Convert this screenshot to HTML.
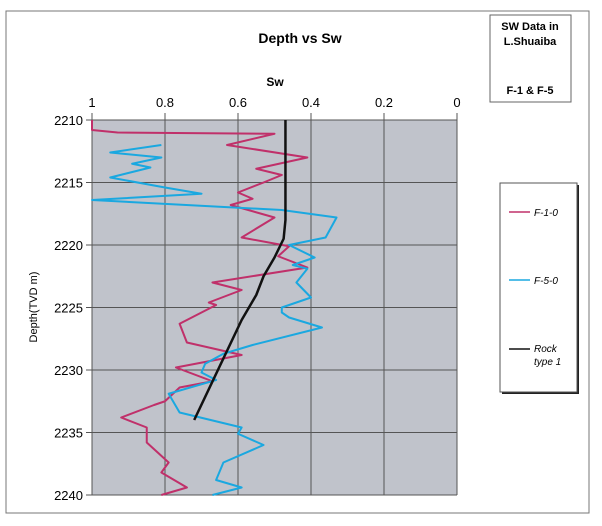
<!DOCTYPE html>
<html><head><meta charset="utf-8"><style>
body{margin:0;background:#fff;width:602px;height:521px;overflow:hidden;font-family:"Liberation Sans",sans-serif}
</style></head><body>
<svg id="chart" width="602" height="521" xmlns="http://www.w3.org/2000/svg">
<rect x="6" y="11" width="583" height="502" fill="#fff" stroke="#777"/>
<text x="300" y="43" text-anchor="middle" font-size="14" font-weight="bold">Depth vs Sw</text>
<text x="275" y="86" text-anchor="middle" font-size="12" font-weight="bold">Sw</text>
<text transform="translate(37,307) rotate(-90)" text-anchor="middle" font-size="11">Depth(TVD m)</text>
<rect x="92" y="120" width="365" height="375" fill="#c0c3cb"/>
<g id="grid"></g><g id="ticks"></g><g id="series"></g>
<g>
<rect x="490" y="15" width="81" height="87" fill="#fff" stroke="#666"/>
<text x="530" y="30" text-anchor="middle" font-size="11" font-weight="bold">SW Data in</text>
<text x="530" y="45" text-anchor="middle" font-size="11" font-weight="bold">L.Shuaiba</text>
<text x="530" y="94" text-anchor="middle" font-size="11" font-weight="bold">F-1 &amp; F-5</text>
</g>
<g>
<rect x="502" y="185" width="77" height="209" fill="#222"/>
<rect x="500" y="183" width="77" height="209" fill="#fff" stroke="#555"/>
<g><line x1="509" y1="212" x2="530" y2="212" stroke="#c0306a" stroke-width="1.5"/><text x="534" y="216" font-size="10" font-style="italic">F-1-0</text></g>
<g><line x1="509" y1="280" x2="530" y2="280" stroke="#1aa8e0" stroke-width="1.5"/><text x="534" y="284" font-size="10" font-style="italic">F-5-0</text></g>
<g><line x1="509" y1="349" x2="530" y2="349" stroke="#111" stroke-width="1.5"/><text x="534" y="352" font-size="10" font-style="italic">Rock</text><text x="534" y="365" font-size="10" font-style="italic">type 1</text></g>
</g>
</svg>
<script>
const xTicks=[1,0.8,0.6,0.4,0.2,0];
const xTickLabels=["1","0.8","0.6","0.4","0.2","0"];
const yTicks=[2210,2215,2220,2225,2230,2235,2240];
const f1Depth=[2210,2210.8,2211,2211.1,2212,2213,2213.9,2214.4,2215,2215.8,2216.3,2216.8,2217.8,2219.4,2220.1,2220.9,2221.8,2223,2223.6,2224.6,2224.8,2226.3,2227.8,2228.8,2229.8,2230.9,2231.4,2232.5,2232.8,2233.8,2234.6,2235.8,2237.4,2238.2,2239.4,2240];
const f1Sw=[1,1,0.93,0.5,0.63,0.41,0.55,0.48,0.53,0.6,0.56,0.62,0.5,0.59,0.46,0.49,0.41,0.67,0.59,0.68,0.66,0.76,0.74,0.59,0.77,0.67,0.76,0.8,0.83,0.92,0.85,0.85,0.79,0.81,0.74,0.81];
const f5Depth=[2212,2212.6,2213,2213.5,2213.8,2214.6,2215.4,2215.9,2216.4,2217.2,2217.8,2219.4,2220,2221,2221.6,2221.9,2223,2224.2,2225,2225.4,2225.8,2226.6,2228,2228.7,2229.5,2230.2,2230.8,2231.9,2232.4,2233.4,2234.6,2235.1,2236,2237.4,2238.8,2239.4,2240];
const f5Sw=[0.81,0.95,0.81,0.89,0.84,0.95,0.8,0.7,1,0.48,0.33,0.36,0.46,0.39,0.45,0.41,0.44,0.4,0.48,0.48,0.46,0.37,0.56,0.64,0.69,0.7,0.66,0.79,0.78,0.76,0.59,0.6,0.53,0.64,0.66,0.59,0.67];
const rockDepth=[2210,2218,2219.5,2221,2222.5,2224,2226,2234];
const rockSw=[0.47,0.47,0.475,0.5,0.53,0.55,0.59,0.72];
const X=v=>457-v*365, Y=d=>120+(d-2210)*12.5;
const NS="http://www.w3.org/2000/svg";
function mk(tag,attrs,parent){const e=document.createElementNS(NS,tag);for(const k in attrs)e.setAttribute(k,attrs[k]);document.getElementById(parent).appendChild(e);return e;}
xTicks.forEach((v,i)=>{
 const g=mk('line',{x1:X(v),x2:X(v),y1:113,y2:495,stroke:'#555','stroke-width':1},'grid');
 
 
 const t=mk('text',{x:X(v),y:107,'text-anchor':'middle','font-size':13},'ticks');t.textContent=xTickLabels[i];
 
 
});
yTicks.forEach(d=>{
 const g=mk('line',{x1:86,x2:457,y1:Y(d),y2:Y(d),stroke:'#555','stroke-width':1},'grid');
 
 
 const t=mk('text',{x:83,y:Y(d)+5,'text-anchor':'end','font-size':13},'ticks');t.textContent=d;
 
 
});
function series(ds,vs,color,w,name){
 const p=mk('polyline',{points:ds.map((d,i)=>X(vs[i])+','+Y(d)).join(' '),fill:'none',stroke:color,'stroke-width':w,'stroke-linejoin':'round'},'series');
 
 
}
series(f1Depth,f1Sw,'#c0306a',2,'series-f1');
series(f5Depth,f5Sw,'#1aa8e0',2,'series-f5');
series(rockDepth,rockSw,'#111',2.5,'series-rock-type-1');
</script>
</body></html>
